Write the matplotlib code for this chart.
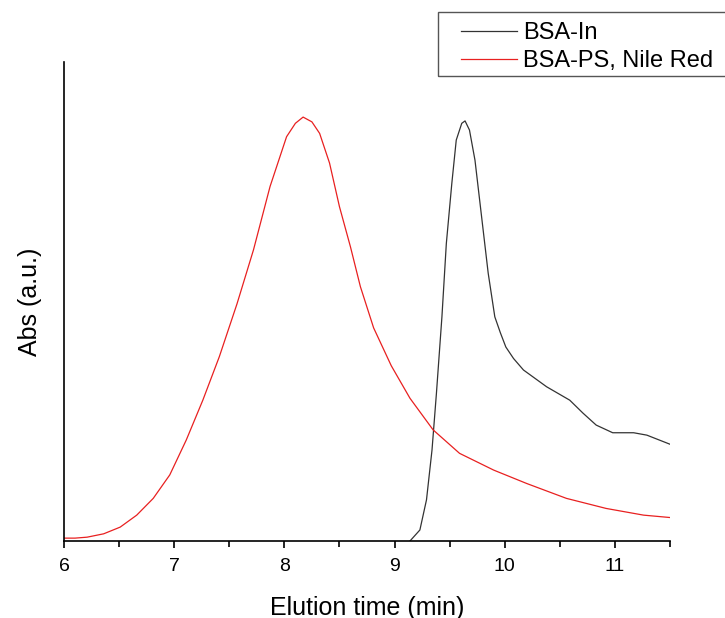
import matplotlib.pyplot as plt
from matplotlib.patches import Rectangle
import numpy as np

plt.rcParams["font.family"] = ["Liberation Sans", "DejaVu Sans"]

# BSA-PS, Nile Red (red trace)
red_t = [6.0, 6.1, 6.21, 6.36, 6.51, 6.66, 6.81, 6.96, 7.11, 7.26, 7.41, 7.57,
         7.72, 7.87, 8.02, 8.10, 8.17, 8.25, 8.32, 8.41, 8.50, 8.60, 8.69, 8.81,
         8.97, 9.14, 9.35, 9.59, 9.90, 10.20, 10.56, 10.92, 11.26, 11.5]
red_abs = [0.006, 0.006, 0.008, 0.015, 0.029, 0.054, 0.089, 0.138, 0.211, 0.294,
           0.385, 0.495, 0.608, 0.740, 0.844, 0.872, 0.885, 0.875, 0.851, 0.789,
           0.698, 0.614, 0.531, 0.445, 0.366, 0.298, 0.232, 0.183, 0.148, 0.120,
           0.089, 0.068, 0.054, 0.049]

# BSA-In (black trace)
blk_t = [9.14, 9.23, 9.29, 9.34, 9.38, 9.43, 9.47, 9.52, 9.56, 9.61, 9.64, 9.68,
         9.73, 9.79, 9.85, 9.91, 9.96, 10.01, 10.08, 10.17, 10.38, 10.59, 10.71,
         10.83, 10.98, 11.17, 11.29, 11.5]
blk_abs = [0.0, 0.023, 0.086, 0.19, 0.308, 0.468, 0.621, 0.747, 0.837, 0.872,
           0.877, 0.858, 0.795, 0.677, 0.559, 0.468, 0.435, 0.405, 0.381, 0.357,
           0.322, 0.294, 0.267, 0.242, 0.226, 0.226, 0.221, 0.202]

fig = plt.figure(figsize=(7.25, 6.18), dpi=100)
ax = fig.add_axes([64 / 725, 1 - 541 / 618, 606 / 725, 479 / 618])

ax.plot(blk_t, blk_abs, color="#333333", lw=0.9, label="BSA-In")
ax.plot(red_t, red_abs, color="#e82020", lw=0.9, label="BSA-PS, Nile Red")

ax.set_xlim(6, 11.5)
ax.set_ylim(0, 1)
ax.set_xticks([6, 7, 8, 9, 10, 11])
ax.set_xticks(np.arange(6.5, 11.6, 1.0), minor=True)
ax.set_yticks([])

for s in ["top", "right"]:
    ax.spines[s].set_visible(False)
for s in ["left", "bottom"]:
    ax.spines[s].set_linewidth(1.2)

ax.tick_params(axis="x", which="major", direction="out", length=5, width=1.2,
               labelsize=14, pad=7)
ax.tick_params(axis="x", which="minor", direction="out", length=4, width=1.2)

ax.set_xlabel("Elution time (min)", fontsize=18, labelpad=15)
ax.set_ylabel("Abs (a.u.)", fontsize=18, labelpad=16)

# legend frame runs off the right edge of the figure
fig.patches.append(Rectangle((438 / 725, 1 - 76 / 618), 300 / 725, 64 / 618,
                             transform=fig.transFigure, fill=False,
                             edgecolor="#555555", lw=1.0))
fig.legend(loc="upper left", bbox_to_anchor=(461 / 725, 1 - 22 / 618),
           frameon=False, fontsize=17, borderpad=0, borderaxespad=0,
           handlelength=2.37, handletextpad=0.25, labelspacing=0.25)

fig.savefig("out.png", dpi=100)
